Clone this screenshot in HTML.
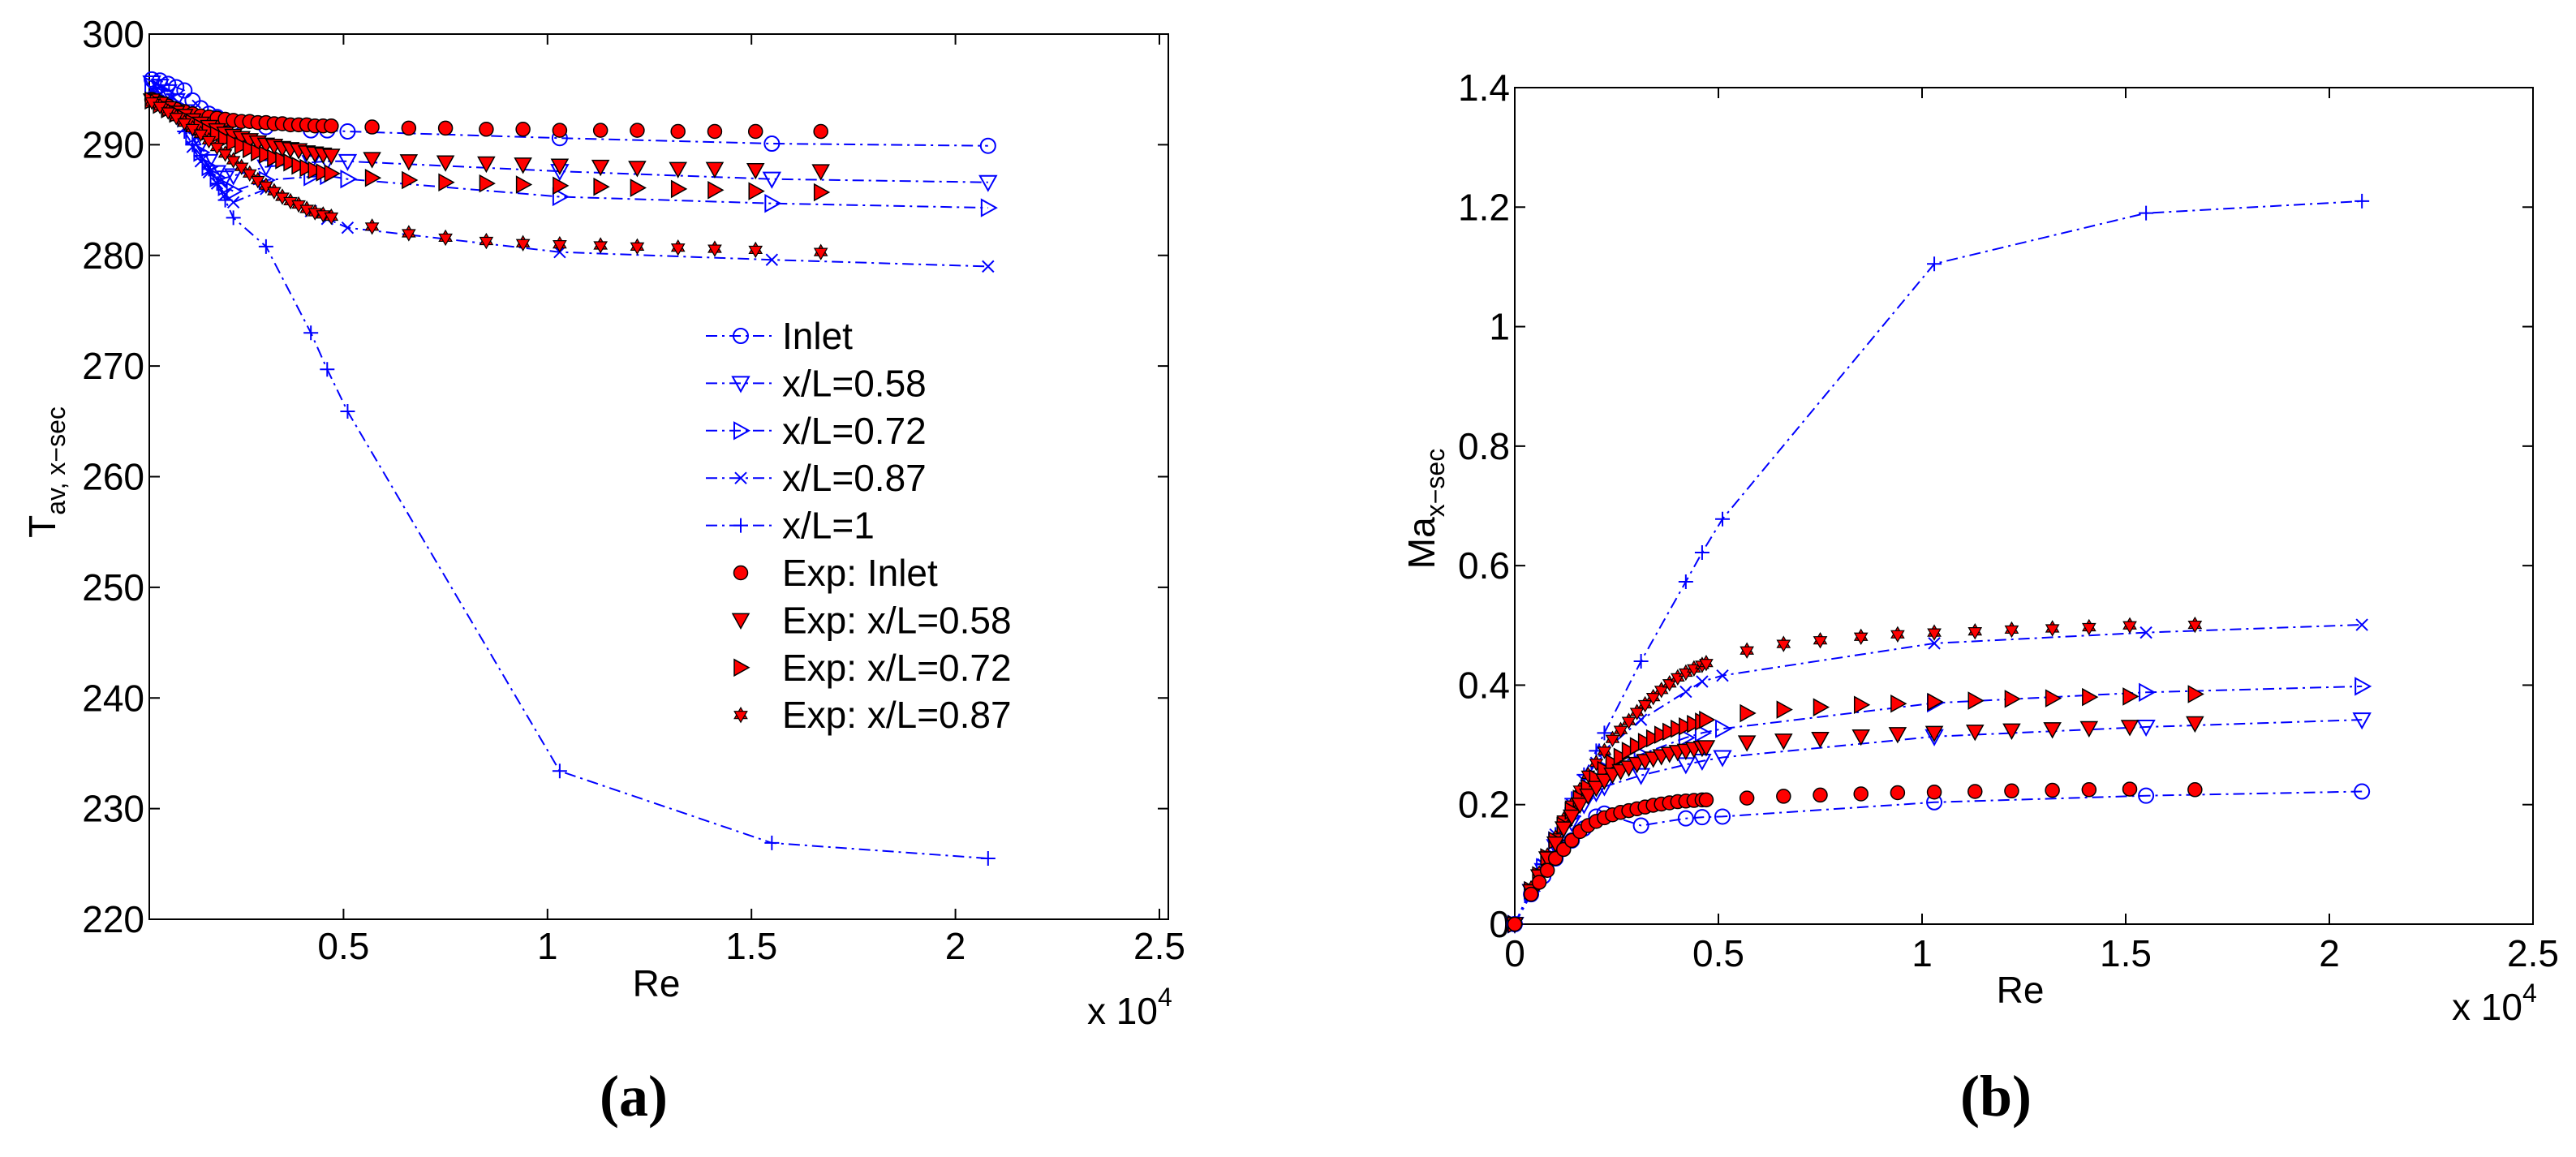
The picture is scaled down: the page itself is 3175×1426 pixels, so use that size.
<!DOCTYPE html>
<html><head><meta charset="utf-8"><style>
html,body{margin:0;padding:0;background:#fff;}
svg{display:block;font-family:"Liberation Sans",sans-serif;}
</style></head><body>
<svg id="fig" width="3175" height="1426" viewBox="0 0 3175 1426" xmlns="http://www.w3.org/2000/svg"></svg>
<script>
// ===== DATA =====
const simX = [0.03,0.05,0.07,0.09,0.11,0.13,0.15,0.17,0.19,0.21,0.23,0.31,0.42,0.46,0.51,1.03,1.55,2.08];
const expX = [0.03,0.05,0.07,0.09,0.11,0.13,0.15,0.17,0.19,0.21,0.23,0.25,0.27,0.29,0.31,0.33,0.35,0.37,0.39,0.41,0.43,0.45,0.47,0.57,0.66,0.75,0.85,0.94,1.03,1.13,1.22,1.32,1.41,1.51,1.67];
// Left: temperature
const tSimInlet = [295.9,295.8,295.5,295.2,294.9,294.0,293.3,292.8,292.5,292.2,292.0,291.6,291.3,291.3,291.2,290.6,290.1,289.9];
const tSim058 = [295.6,295.3,294.8,294.0,293.0,291.5,290.0,288.5,287.5,287.0,287.2,288.0,288.4,288.5,288.5,287.6,286.9,286.6];
const tSim072 = [295.3,295.0,294.5,293.6,292.4,290.8,289.3,288.0,287.0,286.2,285.8,286.8,287.1,287.2,286.9,285.3,284.7,284.3];
const tSim087 = [295.0,294.6,294.0,293.0,291.5,289.8,288.5,287.5,286.5,285.5,284.8,286.0,284.0,283.3,282.5,280.3,279.6,279.0];
const tSim1 = [294.5,294.1,293.5,292.5,291.2,290.0,289.0,287.8,286.5,285.0,283.4,280.8,273.0,269.7,265.9,233.4,226.9,225.5];
const tExpInlet = [294.1,293.8,293.5,293.2,293.0,292.8,292.6,292.5,292.4,292.3,292.2,292.1,292.1,292.0,292.0,291.9,291.9,291.8,291.8,291.8,291.7,291.7,291.7,291.6,291.5,291.5,291.4,291.4,291.3,291.3,291.3,291.2,291.2,291.2,291.2];
const tExp058 = [294.0,293.7,293.3,292.9,292.6,292.2,291.9,291.6,291.3,291.0,290.8,290.6,290.4,290.2,290.0,289.9,289.7,289.6,289.5,289.3,289.2,289.1,289.0,288.7,288.5,288.4,288.3,288.2,288.1,288.0,287.9,287.8,287.8,287.7,287.6];
const tExp072 = [294.0,293.6,293.2,292.8,292.4,292.0,291.6,291.2,290.9,290.5,290.2,289.9,289.6,289.3,289.1,288.8,288.6,288.4,288.1,287.9,287.7,287.5,287.4,287.0,286.8,286.6,286.5,286.4,286.3,286.2,286.1,286.0,285.9,285.8,285.7];
const tExp087 = [293.9,293.5,293.0,292.5,292.0,291.5,291.0,290.4,289.8,289.2,288.6,288.0,287.4,286.8,286.3,285.8,285.3,284.9,284.6,284.2,283.9,283.7,283.5,282.6,282.0,281.6,281.3,281.1,281.0,280.9,280.8,280.7,280.6,280.5,280.3];
// Right: Mach number
const mSimX = [0.0,0.04,0.07,0.10,0.14,0.17,0.20,0.22,0.31,0.42,0.46,0.51,1.03,1.55,2.08];
const mSimInlet = [0.0,0.05,0.08,0.11,0.14,0.16,0.18,0.185,0.165,0.177,0.179,0.18,0.204,0.215,0.222];
const mSim058 = [0.0,0.055,0.09,0.13,0.17,0.20,0.22,0.23,0.249,0.267,0.273,0.279,0.314,0.33,0.342];
const mSim072 = [0.0,0.055,0.095,0.14,0.18,0.21,0.24,0.26,0.284,0.312,0.32,0.327,0.37,0.388,0.398];
const mSim087 = [0.0,0.06,0.10,0.15,0.20,0.24,0.27,0.29,0.342,0.389,0.406,0.416,0.47,0.488,0.501];
const mSim1 = [0.0,0.06,0.10,0.15,0.21,0.25,0.29,0.32,0.44,0.573,0.622,0.678,1.105,1.19,1.21];
const mExpX = [0.0,0.04,0.06,0.08,0.10,0.12,0.14,0.16,0.18,0.20,0.22,0.24,0.26,0.28,0.30,0.32,0.34,0.36,0.38,0.40,0.42,0.44,0.46,0.47,0.57,0.66,0.75,0.85,0.94,1.03,1.13,1.22,1.32,1.41,1.51,1.67];
const mExpInlet = [0.0,0.05,0.07,0.09,0.11,0.125,0.14,0.155,0.165,0.172,0.178,0.183,0.187,0.19,0.193,0.196,0.199,0.201,0.203,0.205,0.206,0.207,0.208,0.208,0.211,0.214,0.216,0.218,0.22,0.221,0.222,0.223,0.224,0.225,0.226,0.225];
const mExp058 = [0.0,0.055,0.08,0.11,0.135,0.16,0.18,0.2,0.215,0.228,0.24,0.25,0.256,0.262,0.268,0.273,0.277,0.281,0.285,0.288,0.29,0.293,0.295,0.296,0.304,0.307,0.31,0.314,0.318,0.32,0.322,0.324,0.326,0.328,0.33,0.336];
const mExp072 = [0.0,0.057,0.082,0.112,0.14,0.165,0.19,0.21,0.228,0.244,0.258,0.27,0.28,0.29,0.298,0.305,0.311,0.317,0.322,0.327,0.331,0.335,0.339,0.342,0.353,0.359,0.363,0.367,0.369,0.372,0.374,0.377,0.378,0.38,0.381,0.385];
const mExp087 = [0.0,0.06,0.085,0.115,0.145,0.175,0.2,0.225,0.25,0.27,0.29,0.31,0.325,0.34,0.355,0.368,0.38,0.392,0.403,0.413,0.421,0.428,0.434,0.437,0.458,0.469,0.475,0.481,0.485,0.488,0.49,0.493,0.495,0.497,0.5,0.501];
const tYTicks = [220,230,240,250,260,270,280,290,300];
const tXTicks = [0.5,1,1.5,2,2.5];
const mYTicks = [0,0.2,0.4,0.6,0.8,1,1.2,1.4];
const mXTicks = [0,0.5,1,1.5,2,2.5];

// ===== DRAW =====
const NS = 'http://www.w3.org/2000/svg';
const svg = document.getElementById('fig');
function mk(tag, attrs, parent){const e=document.createElementNS(NS,tag);for(const k in attrs)e.setAttribute(k,attrs[k]);(parent||svg).appendChild(e);return e;}
const BLUE='#0000ff', RED='#ff0000';
const DASH='14,6,3,6';

function marker(g, type, x, y){
  let e;
  if(type==='circ'){e=mk('circle',{cx:x,cy:y,r:9,fill:'none',stroke:BLUE,'stroke-width':2},g);}
  else if(type==='tdown'){e=mk('polygon',{points:`${x-10},${y-8} ${x+10},${y-8} ${x},${y+10}`,fill:'none',stroke:BLUE,'stroke-width':2},g);}
  else if(type==='tright'){e=mk('polygon',{points:`${x-8},${y-10} ${x-8},${y+10} ${x+10},${y}`,fill:'none',stroke:BLUE,'stroke-width':2},g);}
  else if(type==='cross'){e=mk('path',{d:`M${x-7},${y-7}L${x+7},${y+7}M${x-7},${y+7}L${x+7},${y-7}`,stroke:BLUE,'stroke-width':2,fill:'none'},g);}
  else if(type==='plus'){e=mk('path',{d:`M${x-9},${y}L${x+9},${y}M${x},${y-9}L${x},${y+9}`,stroke:BLUE,'stroke-width':2,fill:'none'},g);}
  else if(type==='rcirc'){e=mk('circle',{cx:x,cy:y,r:8.5,fill:RED,stroke:'#000','stroke-width':1.5},g);}
  else if(type==='rtdown'){e=mk('polygon',{points:`${x-10},${y-8} ${x+10},${y-8} ${x},${y+10}`,fill:RED,stroke:'#000','stroke-width':1.5},g);}
  else if(type==='rtright'){e=mk('polygon',{points:`${x-8},${y-10} ${x-8},${y+10} ${x+10},${y}`,fill:RED,stroke:'#000','stroke-width':1.5},g);}
  else if(type==='rhex'){const r=9;e=mk('polygon',{points:`${x},${y-r} ${x+r*0.866},${y+r/2} ${x-r*0.866},${y+r/2} ${x},${y-r} `+'',fill:RED,stroke:'#000','stroke-width':1.2},g);
    mk('polygon',{points:`${x},${y+r} ${x+r*0.866},${y-r/2} ${x-r*0.866},${y-r/2}`,fill:RED,stroke:'#000','stroke-width':1.2},g);}
  
  
}

function series(g, xs, ys, fx, fy, type, line, name){
  const sg = mk('g',{},g);
  
  
  if(line){
    const pts = xs.map((v,i)=>fx(v).toFixed(1)+','+fy(ys[i]).toFixed(1)).join(' ');
    mk('polyline',{points:pts,fill:'none',stroke:BLUE,'stroke-width':2,'stroke-dasharray':DASH},sg);
  }
  xs.forEach((v,i)=>marker(sg,type,fx(v),fy(ys[i])));
}

function axes(name, L,T,R,B, fx, fy, xt, yt, xfmt, yfmt, xLabY){
  const g = mk('g',{});
  
  
  mk('rect',{x:L,y:T,width:R-L,height:B-T,fill:'none',stroke:'#000','stroke-width':2},g);
  xt.forEach(v=>{const x=fx(v);
    mk('line',{x1:x,y1:B,x2:x,y2:B-13,stroke:'#000','stroke-width':2},g);
    mk('line',{x1:x,y1:T,x2:x,y2:T+13,stroke:'#000','stroke-width':2},g);
    const t=mk('text',{x:x,y:xLabY,'font-size':46,'text-anchor':'middle',fill:'#000'},g);t.textContent=xfmt(v);
    });
  yt.forEach(v=>{const y=fy(v);
    mk('line',{x1:L,y1:y,x2:L+13,y2:y,stroke:'#000','stroke-width':2},g);
    mk('line',{x1:R,y1:y,x2:R-13,y2:y,stroke:'#000','stroke-width':2},g);
    const t=mk('text',{x:L-6,y:y+16,'font-size':46,'text-anchor':'end',fill:'#000'},g);t.textContent=yfmt(v);
    });
  return g;
}

// Left panel (a)
const aL=184,aT=42,aR=1440,aB=1133;
const fxA = v=>172+v*502.8;
const fyA = v=>aB-(v-220)*(aB-aT)/80;
const gA = axes('temperature-plot',aL,aT,aR,aB,fxA,fyA,tXTicks,tYTicks,v=>String(v),v=>String(v),1182);
series(gA,simX,tSim1,fxA,fyA,'plus',true,'sim-xl-1');
series(gA,simX,tSim087,fxA,fyA,'cross',true,'sim-xl-087');
series(gA,simX,tSim072,fxA,fyA,'tright',true,'sim-xl-072');
series(gA,simX,tSim058,fxA,fyA,'tdown',true,'sim-xl-058');
series(gA,simX,tSimInlet,fxA,fyA,'circ',true,'sim-inlet');
series(gA,expX,tExpInlet,fxA,fyA,'rcirc',false,'exp-inlet');
series(gA,expX,tExp058,fxA,fyA,'rtdown',false,'exp-xl-058');
series(gA,expX,tExp072,fxA,fyA,'rtright',false,'exp-xl-072');
series(gA,expX,tExp087,fxA,fyA,'rhex',false,'exp-xl-087');

// Legend
const leg = mk('g',{});


const legItems=[['circ','Inlet',true],['tdown','x/L=0.58',true],['tright','x/L=0.72',true],['cross','x/L=0.87',true],['plus','x/L=1',true],['rcirc','Exp: Inlet',false],['rtdown','Exp: x/L=0.58',false],['rtright','Exp: x/L=0.72',false],['rhex','Exp: x/L=0.87',false]];
legItems.forEach((it,i)=>{const y=414+i*58.4;
  const eg=mk('g',{},leg);
  
  
  if(it[2]) mk('line',{x1:870,y1:y,x2:954,y2:y,stroke:BLUE,'stroke-width':2,'stroke-dasharray':DASH},eg);
  marker(eg,it[0],913,y);
  const t=mk('text',{x:964,y:y+16,'font-size':46,fill:'#000'},eg);t.textContent=it[1];
});

// Right panel (b)
const bL=1867,bT=108,bR=3122,bB=1139;
const fxB = v=>bL+v*502;
const fyB = v=>bB-v*(bB-bT)/1.4;
const gB = axes('mach-plot',bL,bT,bR,bB,fxB,fyB,mXTicks,mYTicks,v=>String(v),v=>String(v),1191);
series(gB,mSimX,mSim1,fxB,fyB,'plus',true,'sim-xl-1');
series(gB,mSimX,mSim087,fxB,fyB,'cross',true,'sim-xl-087');
series(gB,mSimX,mSim072,fxB,fyB,'tright',true,'sim-xl-072');
series(gB,mSimX,mSim058,fxB,fyB,'tdown',true,'sim-xl-058');
series(gB,mSimX,mSimInlet,fxB,fyB,'circ',true,'sim-inlet');
series(gB,mExpX,mExp087,fxB,fyB,'rhex',false,'exp-xl-087');
series(gB,mExpX,mExp072,fxB,fyB,'rtright',false,'exp-xl-072');
series(gB,mExpX,mExp058,fxB,fyB,'rtdown',false,'exp-xl-058');
series(gB,mExpX,mExpInlet,fxB,fyB,'rcirc',false,'exp-inlet');
</script>
<svg style="position:absolute;left:0;top:0" width="3175" height="1426">
  <text transform="translate(68,582) rotate(-90)" font-family="Liberation Sans, sans-serif" font-size="46" text-anchor="middle">T<tspan font-size="32" dy="12">av, x&#8722;sec</tspan></text>
  <text x="809" y="1228" font-family="Liberation Sans, sans-serif" font-size="46" text-anchor="middle">Re</text>
  <text x="1340" y="1262" font-family="Liberation Sans, sans-serif" font-size="46">x 10<tspan font-size="32" dy="-22">4</tspan></text>
  <text x="781" y="1375" font-family="Liberation Serif, serif" font-weight="bold" font-size="72" text-anchor="middle">(a)</text>
  <text transform="translate(1768,627) rotate(-90)" font-family="Liberation Sans, sans-serif" font-size="46" text-anchor="middle">Ma<tspan font-size="32" dy="12">x&#8722;sec</tspan></text>
  <text x="2490" y="1236" font-family="Liberation Sans, sans-serif" font-size="46" text-anchor="middle">Re</text>
  <text x="3022" y="1257" font-family="Liberation Sans, sans-serif" font-size="46">x 10<tspan font-size="32" dy="-22">4</tspan></text>
  <text x="2460" y="1375" font-family="Liberation Serif, serif" font-weight="bold" font-size="72" text-anchor="middle">(b)</text>
</svg>
</body></html>
